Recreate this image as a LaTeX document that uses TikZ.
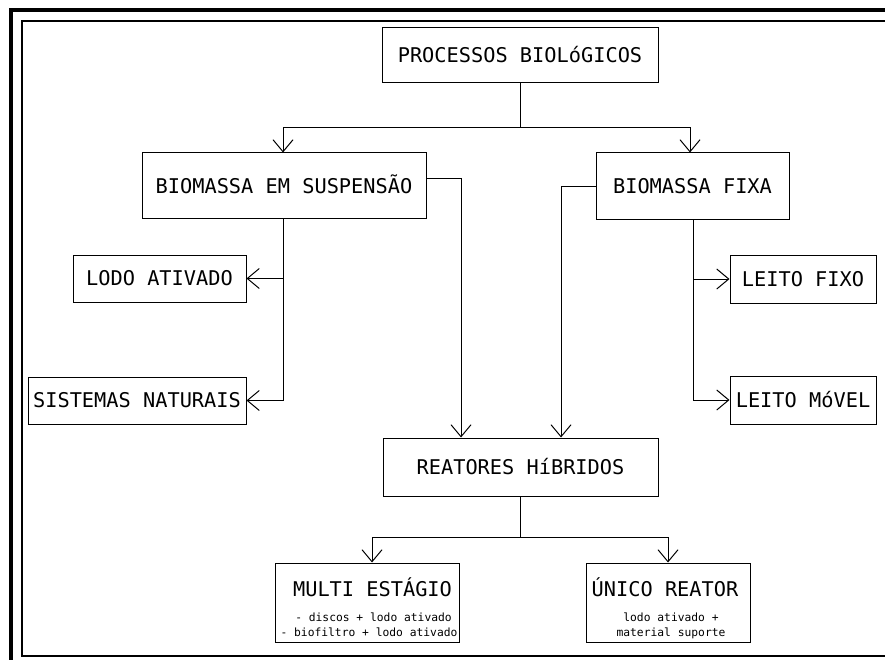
\documentclass[tikz,border=0pt]{standalone}
\usepackage{fontspec}
\newfontfamily\cadfont{DejaVu Sans Mono}
\usetikzlibrary{arrows.meta}
\begin{document}
\begin{tikzpicture}[x=1pt,y=-1pt,
  link/.style={draw=black,line width=1pt},
  arr/.style={link,-{Straight Barb[length=12pt,width=20pt,line width=1pt]}},
  box/.style 2 args={draw=black,line width=1pt,inner sep=0pt,
    minimum width=#1,minimum height=#2},
  bigtxt/.style={font=\cadfont\fontsize{20.3}{24}\selectfont,
    text height=14.8pt,text depth=0pt},
  smalltxt/.style={font=\cadfont\fontsize{11.3}{13}\selectfont,
    inner sep=0pt,text height=8.3pt,text depth=0pt},
  frameouter/.style={line width=4pt},
  frameinner/.style={line width=2pt}]
\useasboundingbox (0,0) rectangle (885,660);
\clip (0,0) rectangle (885,660);

% page frame (runs past the right and bottom edges)
\draw[frameouter] (11,700) -- (11,10) -- (920,10);
\draw[frameinner] (920,21) -- (22,21) -- (22,656) -- (920,656);

% boxes
\node[box={276}{55},bigtxt]  (proc)   at (520,55.5)  {PROCESSOS BIOLóGICOS};
\node[box={284}{66},bigtxt]  (susp)   at (284,186)   {BIOMASSA EM SUSPENSÃO};
\node[box={193}{67},bigtxt]  (fixa)   at (692.5,186.5) {BIOMASSA FIXA};
\node[box={173}{47},bigtxt]  (lodo)   at (159.5,278.5) {LODO ATIVADO};
\node[box={218}{47},bigtxt]  (sist)   at (137,400.5) {SISTEMAS NATURAIS};
\node[box={146}{48},bigtxt]  (lfixo)  at (803,279)   {LEITO FIXO};
\node[box={146}{48},bigtxt]  (lmovel) at (803,400)   {LEITO MóVEL};
\node[box={275}{58},bigtxt]  (reat)   at (520.5,467) {REATORES HíBRIDOS};
\node[box={184}{79}]         (multi)  at (367,602.5) {};
\node[box={164}{79}]         (unico)  at (668,602.5) {};

% texts of the two lower boxes
\node[bigtxt,inner sep=0pt]  (multiT) at (372.5,589.5) {MULTI ESTÁGIO};
\node[smalltxt]              (multiA) at (373.5,617.5) {- discos + lodo ativado};
\node[smalltxt]              (multiB) at (369,632.5)   {- biofiltro + lodo ativado};
\node[bigtxt,inner sep=0pt]  (unicoT) at (665,589.5)   {ÚNICO REATOR};
\node[smalltxt]              (unicoA) at (671,617.5)   {lodo ativado +};
\node[smalltxt]              (unicoB) at (671,632.5)   {material suporte};

% junction points of the branching connectors
\coordinate (bus1) at (520,128);
\coordinate (bus2) at (520.5,537);

% connectors
\draw[link] (proc.south) -- (bus1);
\draw[arr] (bus1) -| ([xshift=-1pt]susp.north);
\draw[arr] (bus1) -| ([xshift=-2.5pt]fixa.north);

\draw[arr] ([xshift=-1pt]susp.south) |- (lodo.east);
\draw[arr] ([xshift=-1pt]susp.south) |- (sist.east);

\draw[arr] ([xshift=0.5pt]fixa.south) |- (lfixo.west);
\draw[arr] ([xshift=0.5pt]fixa.south) |- (lmovel.west);

\draw[arr] ([yshift=7pt]susp.east) -| ([xshift=-59.5pt]reat.north);
\draw[arr] (fixa.west) -| ([xshift=40.5pt]reat.north);

\draw[link] (reat.south) -- (bus2);
\draw[arr] (bus2) -| ([xshift=5pt]multi.north);
\draw[arr] (bus2) -| (unico.north);
\end{tikzpicture}
\end{document}
